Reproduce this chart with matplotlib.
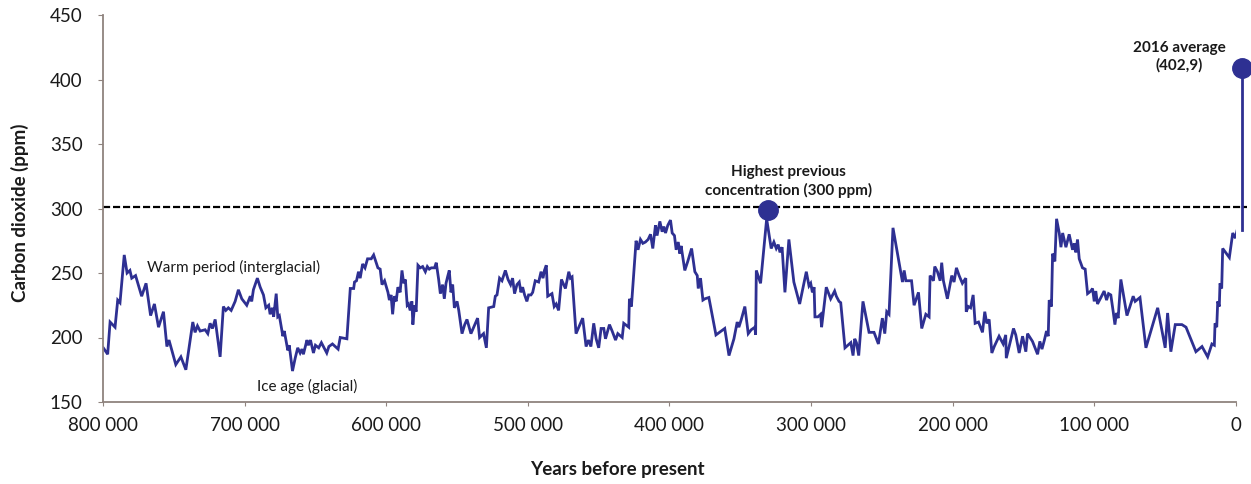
import numpy as np
import matplotlib
matplotlib.use("Agg")
import matplotlib.pyplot as plt
from matplotlib.ticker import FuncFormatter, MultipleLocator

plt.rcParams['font.family'] = ['Lato', 'DejaVu Sans']

# CO2 record: thousands of years before present, ppm
kyr = [799.8, 796.7, 795, 791.5, 789.6, 788, 785, 783, 781, 779.7, 777, 772.7, 769.6, 766.4,
       763.7, 760.8, 757.3, 754.9, 753.4, 748.6, 745, 741.5, 736.6, 735, 733.3, 731.4, 727.9,
       726, 724.4, 722.7, 720.8, 717.3, 715, 713.3, 711.5, 709.5, 706.7, 704.4, 702, 698.5,
       696, 695, 693.8, 691, 689, 686.7, 685, 683, 682, 680.5, 679.5, 677.7, 676.6, 675.5,
       673, 672, 669.5, 668.5, 666.2, 664.3, 662.5, 660.8, 659.5, 658.5, 656, 655, 653.5,
       651.4, 650, 647.7, 645.8, 642, 640.5,
       638, 634, 632.5, 627.8, 625.4, 623, 622.4, 621, 619.6, 618.4, 616.7, 615, 613.2,
       610.6, 608.9, 605.9, 604.3, 603, 601.2, 598.8, 597.8, 596.6, 595.5, 594.3, 593,
       591.8, 590.2, 588.9, 587.7, 586.5, 585.2, 584.3, 583.1, 581.9, 581.2, 580, 578.9,
       577.6, 576, 574.3, 572.4, 571, 569.6, 568.2, 565.9, 564.7, 563, 561.8, 560.2, 559,
       557.8, 556.7, 555.5, 554.3, 553.1, 551.9, 550, 548.8, 546.5, 544.6, 543, 540.2,
       537.1, 535.5, 534.1, 531.3, 529.3, 527.7, 524.1, 523, 521.8, 520, 518.3, 515.9,
       514, 512.2, 510.8, 509.4, 507.7, 506.1, 504.9, 503.7, 502.3, 500.7, 499.5, 497.8,
       496.6, 494.8, 492.4, 490.7, 489.3, 488.3, 487, 486, 483, 481.4, 480, 478.3,
       476.3, 473.5, 471.1, 470, 468.8, 466, 461.3, 458.9, 457.2, 455.5, 453.5, 451.8,
       450, 448.3, 446.4, 445.2, 442.4, 440.5, 438.1, 436.5, 433.4, 432.3, 428.8, 428.3,
       426.9, 423.6, 422.2, 420.5, 418.8, 417, 415.1, 413.4, 411.8, 409.9, 408.8, 406.8,
       405.2, 404, 402.8, 401.2, 399.3, 398.1, 396.5, 395.3, 393.8, 392.7, 391.8, 389.2,
       387.1, 384.4, 382.1, 380.4, 379.7, 378.1, 376.4, 375, 372.2, 369.8, 367.2, 361,
       358, 354.5, 352.2, 351, 349.3, 346.8, 344.4, 342.3, 339.7, 339.2, 338.7, 335.7,
       331.4, 328.2, 326.3, 324.6, 323.2, 322, 320.5, 318.5, 315.7,
       312.2, 308.1, 303.4, 301.5, 300.3, 299.1, 297.9, 297.3, 295.2, 293.3, 292.6, 289.3,
       286.2, 283.4, 282.2, 280.3, 279.1, 276.1, 272, 270.4, 269.2, 268, 266.4, 263.4,
       259.1, 255.6, 252.5, 249.7, 248, 246.6, 245, 242.2, 235.5, 234.3, 233.1, 229.1,
       227.3, 224.2, 221.9, 219, 216.7, 216, 213.6, 212.7, 210.8, 208.9, 207.8, 206.6,
       203.8, 200.7, 199.1, 197.4, 195.5, 193.2, 190.8, 190.5, 189, 187.4, 185.6, 184.2,
       181.8, 179, 177.4, 176, 174.3, 172.4, 170.7, 167.3, 164.4, 162.6, 162.2, 157.1,
       155.5, 153.1, 150.7, 148.4, 147.2, 143.7, 140.1, 138.5, 137, 135.3, 133.8, 132.6,
       131.9, 130.3, 129.5, 127.9, 126.7, 124.8, 123.6, 122.4, 120.1, 117.8, 115.4, 114.2,
       113.1, 111.9, 110.7, 108.4, 106.5, 104.8, 102.5, 101.3, 100.1, 99, 97.8, 95.4,
       93.1, 91.4, 90, 88.4, 86.7, 85.5, 84.4, 83.2, 81.3, 77, 74.9, 72.6, 71.2, 67.8,
       63.6, 55.3, 50, 48.3, 46, 42.9, 38.2, 35.3, 28.3, 24, 20, 17, 15.3, 14.8, 13.6,
       12.9, 11.8, 11.3, 10.1, 9.4, 4.7, 2.3, 0.5, -1.6, -4.2]
co2 = [192, 187, 212, 208, 229, 227, 264, 250, 252, 246, 248, 232, 242, 217,
       226, 208, 220, 193, 198, 179, 185, 175, 212, 204, 209, 205, 206,
       203, 211, 207, 214, 185, 224, 221, 223, 221, 228, 237, 230, 225,
       232, 228, 237, 246, 239, 233, 223, 225, 218, 223, 216, 234, 216, 217,
       201, 205, 190, 194, 174, 184, 192, 188, 191, 187, 198, 194, 198,
       188, 194, 192, 196, 188, 193,
       195, 191, 200, 199, 238, 238, 243, 244, 251, 246, 257, 254, 261,
       261, 264, 254, 253, 241, 244, 235, 229, 233, 218, 232, 228,
       239, 235, 252, 242, 245, 225, 226, 221, 228, 210, 225, 220,
       256, 254, 255, 251, 255, 253, 254, 254, 258, 245, 234, 241, 230,
       242, 247, 252, 235, 241, 223, 228, 221, 203, 210, 214, 203,
       211, 215, 200, 203, 192, 223, 224, 232, 233, 246, 244, 252,
       245, 241, 246, 234, 241, 243, 235, 239, 233, 228, 233, 233,
       235, 244, 243, 251, 246, 252, 256, 232, 234, 224, 226, 221,
       245, 238, 251, 246, 247, 203, 215, 193, 198, 193, 211, 199,
       192, 207, 207, 199, 210, 205, 198, 203, 200, 211, 208, 230,
       224, 275, 268, 276, 273, 274, 276, 280, 269, 287, 279, 290,
       282, 286, 281, 287, 291, 281, 279, 268, 274, 265, 271, 252,
       259, 269, 251, 248, 238, 246, 229, 230, 231, 217, 202, 207,
       186, 199, 212, 208, 214, 224, 203, 206, 208, 202, 252, 242,
       292, 269, 274, 269, 272, 266, 270, 235, 276,
       243, 226, 251, 240, 242, 235, 239, 216, 216, 218, 208, 239,
       230, 236, 232, 228, 227, 192, 196, 186, 199, 196, 186, 228,
       204, 204, 195, 215, 203, 220, 218, 285, 243, 252, 244, 244,
       225, 235, 207, 218, 216, 248, 244, 255, 251, 244, 258, 244,
       230, 248, 243, 254, 248, 242, 246, 220, 224, 223, 233, 211,
       212, 204, 220, 211, 214, 188, 193, 201, 195, 202, 184, 207,
       202, 188, 201, 189, 203, 197, 187, 197, 191, 198, 205, 201,
       229, 224, 265, 259, 292, 281, 270, 281, 270, 280, 268, 273,
       266, 276, 261, 254, 253, 234, 236, 238, 228, 236, 226, 231,
       236, 229, 234, 233, 220, 210, 219, 215, 245, 217, 224, 232, 228, 231,
       192, 223, 192, 219, 189, 210, 210, 208, 189, 193, 185, 195, 194, 211, 208,
       228, 224, 242, 238, 269, 262, 281, 277, 287, 283]

previous_max_kyr = 330.6
previous_max_ppm = 299
present_kyr = -4.2
present_ppm = 409
threshold_ppm = 301

line_color = '#2e3092'
spine_color = '#8f837e'

fig = plt.figure(figsize=(12.51, 4.84), dpi=100)
ax = fig.add_axes([103 / 1251, 82 / 484, 1133 / 1251, 387 / 484])

years = np.array(kyr) * 1000
ax.plot(years, co2, color=line_color, lw=2.0, solid_joinstyle='miter')

# jump to the 2016 value
ax.plot([present_kyr * 1000, present_kyr * 1000], [co2[-1], present_ppm],
        color=line_color, lw=2.0, clip_on=False)
ax.plot(present_kyr * 1000, present_ppm, 'o', color=line_color, ms=14, clip_on=False)

ax.hlines(threshold_ppm, 800000, -8000, colors='black', lw=1.6,
          linestyles=(0, (3.2, 1.3)), clip_on=False, zorder=1)
ax.plot(previous_max_kyr * 1000, previous_max_ppm, 'o', color=line_color, ms=14, zorder=3)

ax.set_xlim(800000, 0)
ax.set_ylim(150, 450)
ax.xaxis.set_major_locator(MultipleLocator(100000))
ax.yaxis.set_major_locator(MultipleLocator(50))
ax.xaxis.set_major_formatter(FuncFormatter(lambda v, p: f"{int(round(v)):,}".replace(",", " ")))

for s in ['top', 'right']:
    ax.spines[s].set_visible(False)
for s in ['left', 'bottom']:
    ax.spines[s].set_color(spine_color)
    ax.spines[s].set_linewidth(1.3)
ax.tick_params(axis='both', colors=spine_color, labelcolor='#1a1a1a', labelsize=13.5)
ax.tick_params(axis='x', length=3, pad=8)
ax.tick_params(axis='y', length=3.6, pad=11)

ax.set_ylabel('Carbon dioxide (ppm)', fontsize=13.5, fontweight='bold', color='#1a1a1a')
ax.yaxis.set_label_coords(-74 / 1133, 0.49)
fig.text(617 / 1251, 1 - 469 / 484, 'Years before present', fontsize=13.5,
         fontweight='bold', color='#1a1a1a', ha='center', va='center')

ax.text(769000, 254, 'Warm period (interglacial)', fontsize=11, color='#1a1a1a',
        ha='left', va='center')
ax.text(655800, 162.4, 'Ice age (glacial)', fontsize=11, color='#1a1a1a',
        ha='center', va='center')
ax.text(316000, 321, 'Highest previous\nconcentration (300 ppm)', fontsize=11,
        fontweight='bold', color='#1a1a1a', ha='center', va='center', linespacing=1.3)
ax.text(40300, 417.5, '2016 average\n(402,9)', fontsize=11, fontweight='bold',
        color='#1a1a1a', ha='center', va='center', linespacing=1.3)

fig.savefig('out.png', dpi=100)
